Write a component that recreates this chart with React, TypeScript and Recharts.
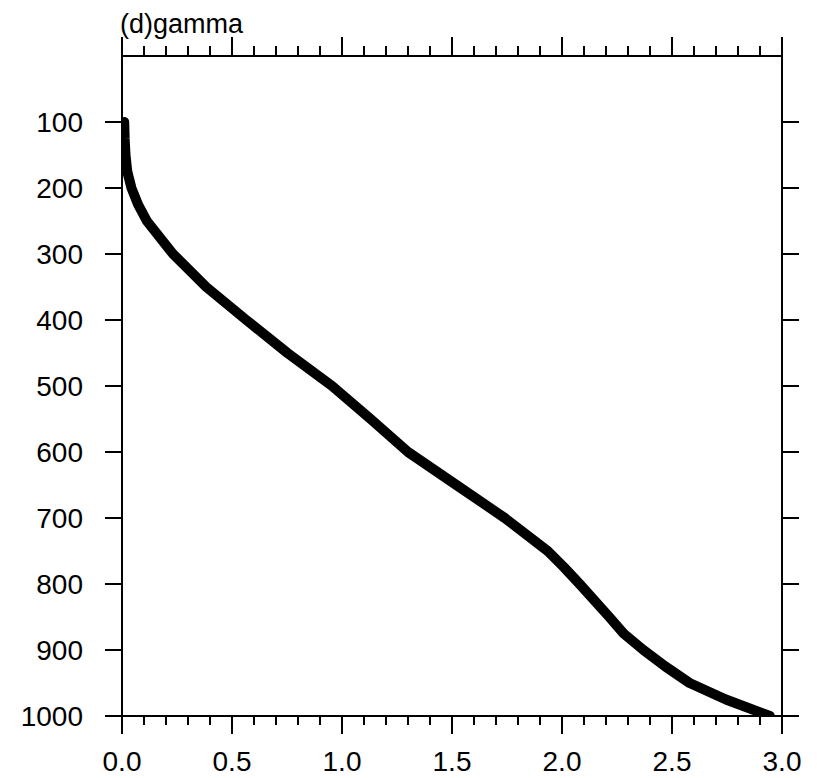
import { Line, LineChart, XAxis, YAxis } from 'recharts'

// pressure levels (hPa) and gamma along the profile
const PRESSURE = [100, 125, 150, 175, 200, 225, 250, 300, 350, 400, 450, 500, 550, 600, 650, 700, 750, 775, 800, 850, 875, 900, 925, 950, 975, 1000]
const GAMMA = [0.01, 0.012, 0.016, 0.024, 0.043, 0.073, 0.113, 0.232, 0.383, 0.565, 0.752, 0.955, 1.13, 1.3, 1.52, 1.74, 1.935, 2.01, 2.08, 2.215, 2.28, 2.37, 2.47, 2.58, 2.745, 2.945]

const X_TICKS = [0, 0.1, 0.2, 0.3, 0.4, 0.5, 0.6, 0.7, 0.8, 0.9, 1.0, 1.1, 1.2, 1.3, 1.4, 1.5, 1.6, 1.7, 1.8, 1.9, 2.0, 2.1, 2.2, 2.3, 2.4, 2.5, 2.6, 2.7, 2.8, 2.9, 3.0]
const Y_TICKS = [100, 200, 300, 400, 500, 600, 700, 800, 900, 1000]

const TITLE = '(d)gamma'
const FONT = '"Liberation Sans", Arial, Helvetica, sans-serif'

const data = PRESSURE.map((p, i) => ({ p, gamma: GAMMA[i] }))

const isMajor = (v: number) => Math.abs(v * 2 - Math.round(v * 2)) < 1e-6

type TickProps = { x?: number; y?: number; payload?: { value: number } }

const BottomTick = ({ x = 0, y = 0, payload }: TickProps) => {
  const v = payload?.value ?? 0
  const major = isMajor(v)
  return (
    <g>
      <line x1={x} x2={x} y1={y} y2={y + (major ? 18 : 9)} stroke="#000" strokeWidth={2} />
      {major && (
        <text x={x} y={y + 55} textAnchor="middle" fontSize={28} fontFamily={FONT} fill="#000">
          {v.toFixed(1)}
        </text>
      )}
    </g>
  )
}

const TopTick = ({ x = 0, y = 0, payload }: TickProps) => {
  const major = isMajor(payload?.value ?? 0)
  return <line x1={x} x2={x} y1={y} y2={y - (major ? 19 : 10)} stroke="#000" strokeWidth={2} />
}

const LeftTick = ({ x = 0, y = 0, payload }: TickProps) => (
  <g>
    <line x1={x} x2={x - 17} y1={y} y2={y} stroke="#000" strokeWidth={2} />
    <text x={x - 39} y={y} dy="0.36em" textAnchor="end" fontSize={28} fontFamily={FONT} fill="#000">
      {payload?.value}
    </text>
  </g>
)

const RightTick = ({ x = 0, y = 0 }: TickProps) => (
  <line x1={x} x2={x + 17} y1={y} y2={y} stroke="#000" strokeWidth={2} />
)

export default function App() {
  return (
    <div style={{ position: 'absolute', left: 0, top: 0, width: 817, height: 778, background: '#fff' }}>
      <div style={{ position: 'absolute', left: 120, top: 11, fontFamily: FONT, fontSize: 27, lineHeight: '27px', color: '#000' }}>
        {TITLE}
      </div>
      <LineChart width={817} height={778} data={data} margin={{ top: 0, right: 0, bottom: 0, left: 0 }}>
        <XAxis
          dataKey="gamma"
          type="number"
          domain={[0, 3]}
          allowDataOverflow
          ticks={X_TICKS}
          interval={0}
          height={62}
          tickSize={0}
          tickMargin={0}
          tickLine={false}
          axisLine={{ stroke: '#000', strokeWidth: 2 }}
          tick={<BottomTick />}
        />
        <XAxis
          xAxisId="top"
          dataKey="gamma"
          orientation="top"
          type="number"
          domain={[0, 3]}
          allowDataOverflow
          ticks={X_TICKS}
          interval={0}
          height={56}
          tickSize={0}
          tickMargin={0}
          tickLine={false}
          axisLine={{ stroke: '#000', strokeWidth: 2 }}
          tick={<TopTick />}
        />
        <YAxis
          dataKey="p"
          type="number"
          domain={[0, 1000]}
          allowDataOverflow
          reversed
          ticks={Y_TICKS}
          interval={0}
          width={122}
          tickSize={0}
          tickMargin={0}
          tickLine={false}
          axisLine={{ stroke: '#000', strokeWidth: 2 }}
          tick={<LeftTick />}
        />
        <YAxis
          yAxisId="right"
          dataKey="p"
          orientation="right"
          type="number"
          domain={[0, 1000]}
          allowDataOverflow
          reversed
          ticks={Y_TICKS}
          interval={0}
          width={35}
          tickSize={0}
          tickMargin={0}
          tickLine={false}
          axisLine={{ stroke: '#000', strokeWidth: 2 }}
          tick={<RightTick />}
        />
        <Line
          type="linear"
          dataKey="p"
          stroke="#000"
          strokeWidth={10}
          strokeLinecap="round"
          strokeLinejoin="round"
          dot={false}
          activeDot={false}
          isAnimationActive={false}
        />
      </LineChart>
    </div>
  )
}
